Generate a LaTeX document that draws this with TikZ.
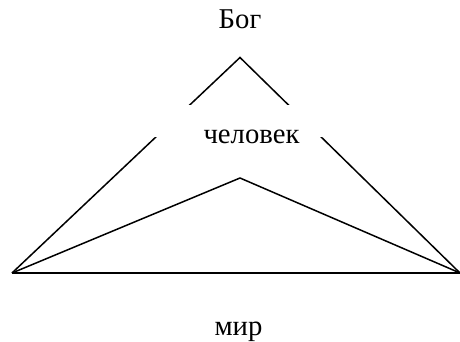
\documentclass[tikz,border=0pt]{standalone}
\usepackage{fontspec}
\setmainfont{Liberation Serif}
\begin{document}
\begin{tikzpicture}[x=0.5pt,y=-0.5pt,
  edge/.style={line width=0.75pt, black},
  baseedge/.style={line width=1pt, black},
  lbl/.style={anchor=base, inner sep=0pt, font=\fontsize{14.35}{17}\selectfont},
  mask/.style={fill=white, draw=none}]
\useasboundingbox (0,0) rectangle (460,342);
\coordinate (A) at (240,57.5);
\coordinate (B) at (240,178);
\coordinate (L) at (12,273);
\coordinate (R) at (460,273);
\draw[edge, line join=miter] (L) -- (A) -- (R);
\draw[edge] (L) -- (B) -- (R);
\draw[baseedge] (L) -- (R);
\fill[mask] (140,105) rectangle (340,137);
\node[lbl] (bog) at (240,29) {Бог};
\node[lbl] (chel) at (251.5,143) {человек};
\node[lbl] (mir) at (238.5,335) {мир};
\end{tikzpicture}
\end{document}
